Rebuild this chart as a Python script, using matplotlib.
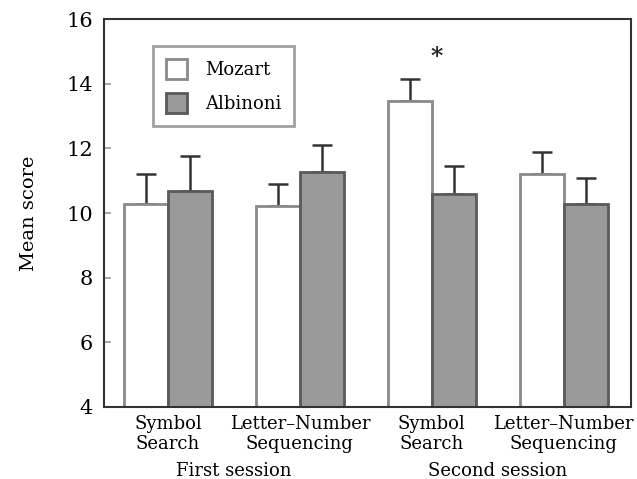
import matplotlib
matplotlib.use("Agg")
import matplotlib.pyplot as plt
import numpy as np
from matplotlib.patches import Patch

categories = ["Symbol\nSearch", "Letter\u2013Number\nSequencing", "Symbol\nSearch", "Letter\u2013Number\nSequencing"]
sessions = ["First session", "Second session"]
mozart = [10.28, 10.22, 13.46, 11.22]
mozart_err = [0.93, 0.68, 0.68, 0.66]
albinoni = [10.68, 11.27, 10.60, 10.28]
albinoni_err = [1.09, 0.83, 0.86, 0.81]
yticks = [4, 6, 8, 10, 12, 14, 16]

plt.rcParams['font.family'] = ['DejaVu Serif']

fig = plt.figure(figsize=(6.37, 4.79), dpi=100)
ax = fig.add_axes([104/637, 1-407/479, (631-104)/637, (407-19)/479])

x = np.arange(len(categories))
w = 1/3
ax.bar(x - w/2, mozart, w, color='white', edgecolor='#8a8a8a', linewidth=2, zorder=2)
ax.bar(x + w/2, albinoni, w, color='#9a9a9a', edgecolor='#5a5a5a', linewidth=2, zorder=2)
ax.errorbar(x - w/2, mozart, yerr=[np.zeros(4), mozart_err], fmt='none', ecolor='#333333',
            elinewidth=1.8, capsize=7, capthick=1.8, zorder=1)
ax.errorbar(x + w/2, albinoni, yerr=[np.zeros(4), albinoni_err], fmt='none', ecolor='#333333',
            elinewidth=1.8, capsize=7, capthick=1.8, zorder=1)

ax.text(2.04, 14.82, '*', ha='center', va='center', fontsize=17, fontweight='bold', color='#222222')

ax.set_ylim(4, 16)
ax.set_xlim(-0.485, 3.51)
ax.set_yticks(yticks)
ax.set_yticklabels([str(t) for t in yticks], fontsize=15)
ax.tick_params(axis='y', direction='in', length=5, color='#999999', width=1.2, pad=8)
ax.set_xticks(x)
ax.set_xticklabels(categories, fontsize=13, linespacing=1.12)
ax.tick_params(axis='x', length=0, pad=6)
for s in ax.spines.values():
    s.set_color('#333333')
    s.set_linewidth(1.5)

ax.set_ylabel('Mean score', fontsize=14, labelpad=20)

for i, s in enumerate(sessions):
    ax.text(0.5 + 2*i, -0.165, s, transform=ax.get_xaxis_transform(), ha='center', va='center', fontsize=13)

handles = [Patch(facecolor='white', edgecolor='#8a8a8a', linewidth=2, label='Mozart'),
           Patch(facecolor='#9a9a9a', edgecolor='#5a5a5a', linewidth=2, label='Albinoni')]
leg = ax.legend(handles=handles, loc='upper left', bbox_to_anchor=(0.093, 0.93), fontsize=13,
                frameon=True, fancybox=False, edgecolor='#888888', handlelength=1.2, handleheight=1.35,
                borderpad=0.7, labelspacing=0.75, handletextpad=1.0, borderaxespad=0)
leg.get_frame().set_linewidth(2)

fig.savefig('out.png', dpi=100)
